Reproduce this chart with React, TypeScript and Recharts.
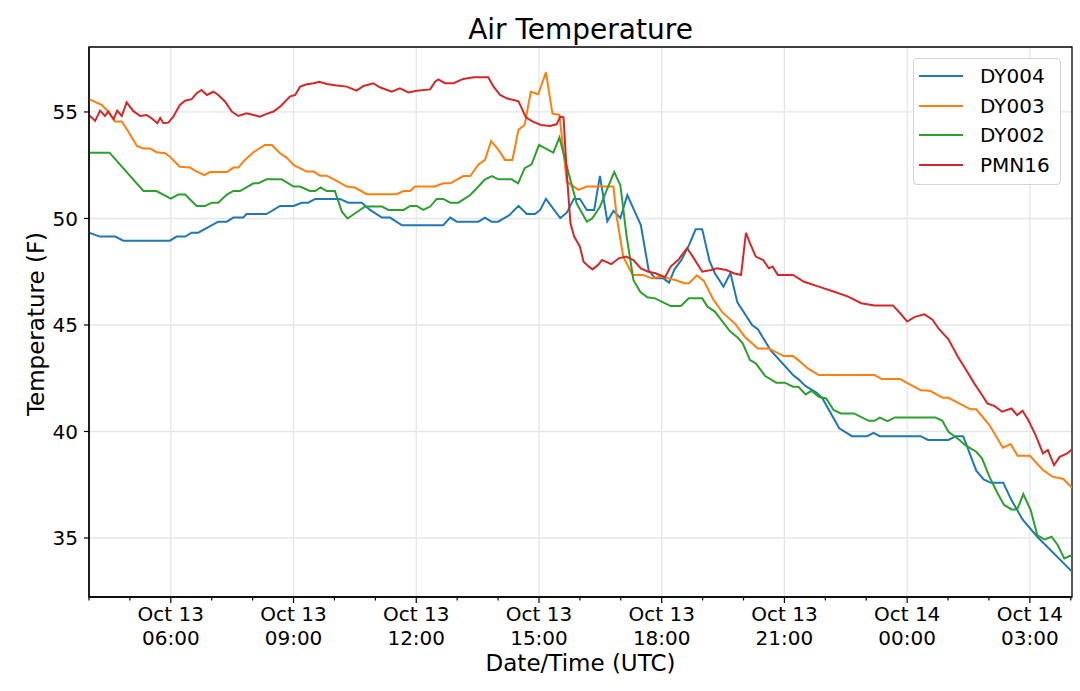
import React from 'react';
import {
  LineChart,
  Line,
  XAxis,
  YAxis,
  CartesianGrid,
  Legend,
  ReferenceArea,
} from 'recharts';

// time axis: hours since Oct 13 04:00 UTC
const HOUR_TICKS = [0, 1, 2, 3, 4, 5, 6, 7, 8, 9, 10, 11, 12, 13, 14, 15, 16, 17, 18, 19, 20, 21, 22, 23, 24];
const MAJOR_HOURS = [2, 5, 8, 11, 14, 17, 20, 23];
const MAJOR_DATES = ['Oct 13', 'Oct 13', 'Oct 13', 'Oct 13', 'Oct 13', 'Oct 13', 'Oct 14', 'Oct 14'];
const MAJOR_TIMES = ['06:00', '09:00', '12:00', '15:00', '18:00', '21:00', '00:00', '03:00'];
const Y_TICKS = [35, 40, 45, 50, 55];
const X_DOMAIN: [number, number] = [0, 24.03];
const Y_DOMAIN: [number, number] = [32.23, 58.05];

const DY004: [number, number][] = [
  [0, 49.33], [0.27, 49.15], [0.64, 49.15], [0.84, 48.96], [1.98, 48.96], [2.14, 49.15], [2.35, 49.15],
  [2.51, 49.33], [2.67, 49.33], [3.16, 49.85], [3.37, 49.85], [3.53, 50.04], [3.77, 50.04], [3.85, 50.21],
  [4.34, 50.21], [4.67, 50.59], [5.0, 50.59], [5.2, 50.74], [5.36, 50.74], [5.53, 50.92], [6.13, 50.92],
  [6.34, 50.74], [6.67, 50.74], [6.87, 50.4], [7.16, 50.04], [7.36, 50.04], [7.65, 49.68], [8.66, 49.68],
  [8.83, 50.04], [8.99, 49.85], [9.52, 49.85], [9.68, 50.04], [9.84, 49.85], [10.0, 49.85], [10.28, 50.16],
  [10.5, 50.59], [10.7, 50.21], [10.9, 50.21], [11.03, 50.4], [11.17, 50.92], [11.52, 50.02], [11.68, 50.27],
  [11.85, 50.92], [12.0, 50.92], [12.17, 50.4], [12.35, 50.4], [12.49, 52.0], [12.67, 49.87], [12.82, 50.36],
  [12.99, 50.02], [13.16, 51.1], [13.49, 49.69], [13.68, 47.58], [13.84, 47.19], [14.04, 47.19], [14.18, 46.99],
  [14.31, 47.6], [14.49, 48.08], [14.67, 48.76], [14.83, 49.49], [14.99, 49.49], [15.17, 48.0], [15.3, 47.43],
  [15.51, 46.8], [15.68, 47.44], [15.85, 46.06], [16.21, 45.0], [16.35, 44.8], [16.66, 43.82], [17.21, 42.65],
  [17.34, 42.46], [17.52, 42.13], [17.79, 41.82], [17.93, 41.55], [18.34, 40.15], [18.65, 39.78], [19.02, 39.78],
  [19.18, 39.94], [19.33, 39.78], [20.33, 39.78], [20.51, 39.6], [21.01, 39.6], [21.19, 39.78], [21.37, 39.78],
  [21.69, 38.16], [21.87, 37.75], [22.05, 37.59], [22.35, 37.59], [22.55, 36.78], [22.82, 35.87], [23.18, 35.06],
  [24.03, 33.42],
];

const DY003: [number, number][] = [
  [0, 55.6], [0.31, 55.33], [0.47, 55.02], [0.64, 54.55], [0.8, 54.55], [0.96, 54.08], [1.17, 53.4], [1.33, 53.29],
  [1.49, 53.29], [1.65, 53.11], [1.86, 53.06], [1.98, 52.9], [2.22, 52.43], [2.47, 52.39], [2.59, 52.25],
  [2.82, 52.03], [2.96, 52.18], [3.37, 52.18], [3.53, 52.39], [3.65, 52.39], [3.81, 52.75], [4.02, 53.11],
  [4.3, 53.45], [4.47, 53.45], [4.67, 53.06], [4.83, 52.86], [5.0, 52.51], [5.32, 52.2], [5.49, 52.2],
  [5.65, 52.01], [5.81, 52.01], [6.01, 51.81], [6.3, 51.5], [6.5, 51.45], [6.79, 51.14], [7.52, 51.14],
  [7.69, 51.29], [7.85, 51.29], [7.97, 51.5], [8.46, 51.5], [8.66, 51.65], [8.83, 51.65], [9.15, 51.99],
  [9.32, 51.99], [9.52, 52.54], [9.68, 52.75], [9.83, 53.64], [10.01, 53.22], [10.17, 52.75], [10.35, 52.75],
  [10.5, 54.17], [10.65, 54.39], [10.8, 55.95], [10.98, 55.83], [11.17, 56.86], [11.33, 54.92], [11.5, 54.86],
  [11.68, 51.73], [11.96, 51.34], [12.17, 51.5], [12.82, 51.5], [12.9, 50.08], [13.06, 48.2], [13.29, 47.35],
  [13.54, 47.35], [13.76, 47.19], [13.99, 47.27], [14.35, 47.1], [14.55, 46.96], [14.67, 46.96], [14.86, 47.33],
  [15.03, 47.07], [15.26, 46.2], [15.48, 45.6], [15.8, 45.04], [16.03, 44.45], [16.35, 43.9], [16.62, 43.9],
  [16.98, 43.54], [17.21, 43.54], [17.34, 43.35], [17.57, 42.96], [17.84, 42.65], [19.2, 42.65], [19.38, 42.46],
  [19.83, 42.46], [20.1, 42.18], [20.33, 41.94], [20.56, 41.91], [20.87, 41.58], [21.01, 41.58], [21.55, 41.04],
  [21.69, 41.04], [22.01, 40.3], [22.34, 39.24], [22.53, 39.41], [22.7, 38.86], [23.0, 38.86], [23.32, 38.19],
  [23.55, 37.88], [23.82, 37.77], [24.03, 37.36],
];

const DY002: [number, number][] = [
  [0, 53.09], [0.5, 53.09], [1.33, 51.29], [1.65, 51.29], [2.0, 50.93], [2.18, 51.12], [2.35, 51.12],
  [2.63, 50.59], [2.84, 50.59], [3.0, 50.74], [3.16, 50.74], [3.37, 51.12], [3.53, 51.29], [3.69, 51.29],
  [4.02, 51.65], [4.14, 51.65], [4.34, 51.84], [4.71, 51.84], [5.0, 51.5], [5.16, 51.5], [5.4, 51.29],
  [5.53, 51.29], [5.66, 51.46], [5.81, 51.29], [6.01, 51.29], [6.18, 50.32], [6.32, 50.0], [6.75, 50.56],
  [7.16, 50.56], [7.32, 50.4], [7.69, 50.4], [7.85, 50.59], [8.01, 50.59], [8.17, 50.4], [8.34, 50.56],
  [8.5, 50.92], [8.66, 50.92], [8.83, 50.74], [9.03, 50.74], [9.32, 51.1], [9.52, 51.5], [9.68, 51.84],
  [9.85, 51.99], [10.01, 51.84], [10.33, 51.84], [10.49, 51.65], [10.65, 52.36], [10.82, 52.54], [11.0, 53.45],
  [11.35, 53.09], [11.5, 53.8], [11.68, 52.45], [11.92, 50.71], [12.17, 49.85], [12.3, 50.0], [12.49, 50.55],
  [12.67, 51.4], [12.84, 52.18], [12.99, 51.55], [13.14, 49.2], [13.31, 47.1], [13.48, 46.55], [13.65, 46.3],
  [13.84, 46.25], [14.06, 46.04], [14.22, 45.89], [14.47, 45.89], [14.66, 46.25], [14.99, 46.25], [15.12, 45.86],
  [15.3, 45.63], [15.45, 45.25], [15.67, 44.7], [15.85, 44.42], [15.98, 44.14], [16.16, 43.35], [16.3, 43.2],
  [16.53, 42.6], [16.8, 42.29], [17.01, 42.29], [17.21, 42.1], [17.34, 42.1], [17.52, 41.74], [17.66, 41.91],
  [17.84, 41.63], [18.02, 41.55], [18.2, 41.01], [18.38, 40.85], [18.7, 40.85], [19.06, 40.5], [19.2, 40.5],
  [19.33, 40.65], [19.52, 40.49], [19.7, 40.66], [20.69, 40.66], [20.86, 40.5], [21.01, 39.99], [21.28, 39.6],
  [21.42, 39.36], [21.69, 39.05], [21.83, 38.74], [22.01, 37.88], [22.19, 37.17], [22.37, 36.55], [22.55, 36.34],
  [22.69, 36.34], [22.84, 37.06], [23.02, 36.31], [23.18, 35.14], [23.36, 34.93], [23.53, 35.06], [23.68, 34.67],
  [23.84, 34.04], [24.03, 34.2],
];

const PMN16: [number, number][] = [
  [0, 54.86], [0.15, 54.58], [0.27, 55.06], [0.39, 54.81], [0.47, 55.02], [0.6, 54.66], [0.69, 55.06],
  [0.8, 54.81], [0.92, 55.45], [1.08, 55.05], [1.25, 54.81], [1.41, 54.86], [1.53, 54.7], [1.67, 54.47],
  [1.74, 54.72], [1.82, 54.47], [1.94, 54.5], [2.06, 54.78], [2.22, 55.33], [2.35, 55.53], [2.51, 55.6],
  [2.63, 55.88], [2.75, 56.03], [2.88, 55.8], [3.04, 55.95], [3.16, 55.8], [3.33, 55.48], [3.49, 55.02],
  [3.65, 54.81], [3.85, 54.94], [4.02, 54.86], [4.18, 54.78], [4.34, 54.91], [4.51, 55.02], [4.67, 55.25],
  [4.79, 55.48], [4.91, 55.72], [5.04, 55.8], [5.16, 56.19], [5.32, 56.3], [5.49, 56.35], [5.63, 56.42],
  [5.81, 56.31], [6.06, 56.24], [6.3, 56.19], [6.54, 56.0], [6.71, 56.22], [6.95, 56.35], [7.11, 56.16],
  [7.4, 55.95], [7.6, 56.11], [7.81, 55.92], [8.01, 56.0], [8.34, 56.06], [8.46, 56.42], [8.54, 56.53],
  [8.7, 56.35], [8.91, 56.35], [9.15, 56.55], [9.4, 56.63], [9.76, 56.63], [9.89, 56.19], [10.05, 55.8],
  [10.21, 55.64], [10.38, 55.56], [10.5, 55.5], [10.68, 54.75], [10.85, 54.55], [11.05, 54.39], [11.27, 54.34],
  [11.43, 54.42], [11.52, 54.78], [11.6, 54.75], [11.68, 52.12], [11.77, 49.77], [11.86, 49.15], [12.0, 48.68],
  [12.09, 47.97], [12.22, 47.74], [12.31, 47.61], [12.45, 47.82], [12.54, 48.05], [12.77, 47.86], [12.95, 48.13],
  [13.13, 48.21], [13.31, 48.05], [13.49, 47.66], [13.67, 47.5], [13.85, 47.43], [14.08, 47.24], [14.22, 47.74],
  [14.4, 48.05], [14.62, 48.6], [14.76, 48.21], [14.99, 47.5], [15.21, 47.58], [15.35, 47.66], [15.58, 47.58],
  [15.76, 47.43], [15.94, 47.35], [16.06, 49.33], [16.16, 48.83], [16.3, 48.21], [16.48, 48.05], [16.62, 47.66],
  [16.71, 47.74], [16.84, 47.35], [17.21, 47.35], [17.48, 47.03], [17.84, 46.8], [18.2, 46.57], [18.56, 46.33],
  [18.88, 46.02], [19.2, 45.91], [19.65, 45.92], [19.83, 45.55], [20.0, 45.16], [20.19, 45.38], [20.42, 45.5],
  [20.62, 45.25], [20.78, 44.8], [21.01, 44.33], [21.24, 43.51], [21.42, 42.96], [21.64, 42.26], [21.83, 41.71],
  [21.96, 41.32], [22.14, 41.19], [22.32, 40.93], [22.55, 41.08], [22.69, 40.77], [22.82, 40.97], [22.96, 40.54],
  [23.14, 39.83], [23.32, 38.97], [23.44, 39.13], [23.59, 38.42], [23.73, 38.81], [23.91, 38.97], [24.03, 39.16],
];

const SERIES = [
  { name: 'DY004', points: DY004, color: '#1f77b4' },
  { name: 'DY003', points: DY003, color: '#ff7f0e' },
  { name: 'DY002', points: DY002, color: '#2ca02c' },
  { name: 'PMN16', points: PMN16, color: '#d62728' },
];
const SERIES_ORDER = SERIES.map((s) => s.name);

const FONT = "'DejaVu Sans', Verdana, sans-serif";

const XTick = (props: any) => {
  const { x, y, payload } = props;
  const idx = MAJOR_HOURS.indexOf(payload.value);
  const major = idx >= 0;
  return (
    <g>
      <line x1={x} x2={x} y1={y} y2={y + (major ? 6 : 3.5)} stroke="#000" strokeWidth={1.2} />
      {major && (
        <text x={x} y={y + 24} textAnchor="middle" fontSize={20} fontFamily={FONT} fill="#000">
          {MAJOR_DATES[idx]}
        </text>
      )}
      {major && (
        <text x={x} y={y + 48} textAnchor="middle" fontSize={20} fontFamily={FONT} fill="#000">
          {MAJOR_TIMES[idx]}
        </text>
      )}
    </g>
  );
};

const renderLegend = (props: any) => {
  const items = [...(props.payload || [])].sort(
    (a: any, b: any) => SERIES_ORDER.indexOf(a.value) - SERIES_ORDER.indexOf(b.value),
  );
  return (
    <div
      style={{
        width: 148,
        height: 127,
        boxSizing: 'border-box',
        border: '1px solid #d4d4d4',
        borderRadius: 4,
        background: 'rgba(255,255,255,0.85)',
        paddingTop: 2,
        fontFamily: FONT,
        fontSize: 20,
        color: '#000',
      }}
    >
      {items.map((entry: any) => (
        <div key={entry.value} style={{ height: 29.7, display: 'flex', alignItems: 'center' }}>
          <div style={{ width: 44, height: 2, background: entry.color, marginLeft: 5, marginRight: 17 }} />
          <span>{entry.value}</span>
        </div>
      ))}
    </div>
  );
};

export default function App() {
  return (
    <div style={{ position: 'absolute', left: 0, top: 0, width: 1080, height: 691, background: '#fff' }}>
      <LineChart width={1080} height={691} margin={{ top: 47, right: 8, bottom: 0, left: 0 }}>
        <CartesianGrid
          stroke="#e6e6e6"
          strokeWidth={1.3}
          verticalValues={MAJOR_HOURS}
          horizontalValues={Y_TICKS}
        />
        <XAxis
          type="number"
          dataKey="t"
          domain={X_DOMAIN}
          ticks={HOUR_TICKS}
          interval={0}
          tickSize={0}
          tickMargin={0}
          tickLine={false}
          tick={<XTick />}
          axisLine={{ stroke: '#000', strokeWidth: 1.3 }}
          height={94}
          allowDataOverflow
        />
        <YAxis
          type="number"
          domain={Y_DOMAIN}
          ticks={Y_TICKS}
          width={89}
          tickSize={5}
          tickMargin={6}
          tick={{ fill: '#000', fontSize: 20, fontFamily: FONT }}
          tickLine={{ stroke: '#000', strokeWidth: 1.2 }}
          axisLine={{ stroke: '#000', strokeWidth: 1.3 }}
          allowDataOverflow
        />
        <ReferenceArea
          x1={X_DOMAIN[0]}
          x2={X_DOMAIN[1]}
          y1={Y_DOMAIN[0]}
          y2={Y_DOMAIN[1]}
          fill="none"
          fillOpacity={0}
          stroke="#000"
          strokeWidth={1.3}
          ifOverflow="visible"
        />
        {SERIES.map((s) => (
          <Line
            key={s.name}
            name={s.name}
            data={s.points.map(([t, v]) => ({ t, v }))}
            dataKey="v"
            type="linear"
            stroke={s.color}
            strokeWidth={2}
            dot={false}
            activeDot={false}
            isAnimationActive={false}
          />
        ))}
        <Legend
          layout="horizontal"
          align="center"
          verticalAlign="middle"
          content={renderLegend}
          wrapperStyle={{ position: 'absolute', left: 913, top: 58, width: 148, height: 127, right: 'auto', bottom: 'auto' }}
        />
      </LineChart>
      <svg
        width={1080}
        height={691}
        style={{ position: 'absolute', left: 0, top: 0, pointerEvents: 'none' }}
      >
        <text x={580.5} y={39} textAnchor="middle" fontSize={28} fontFamily={FONT} fill="#000">
          Air Temperature
        </text>
        <text x={580.5} y={671} textAnchor="middle" fontSize={23} fontFamily={FONT} fill="#000">
          Date/Time (UTC)
        </text>
        <text
          x={44}
          y={324}
          transform="rotate(-90, 44, 324)"
          textAnchor="middle"
          fontSize={23}
          fontFamily={FONT}
          fill="#000"
        >
          Temperature (F)
        </text>
      </svg>
    </div>
  );
}
